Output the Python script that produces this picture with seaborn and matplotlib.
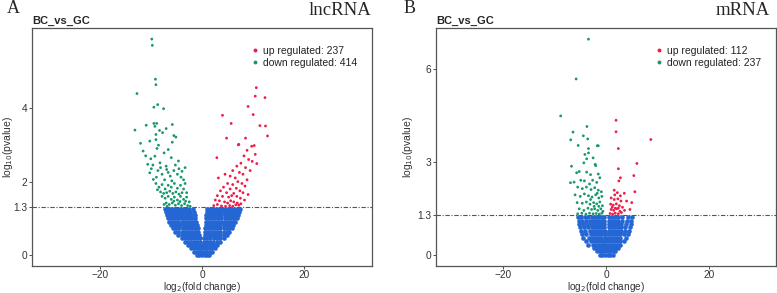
import numpy as np
import pandas as pd
import matplotlib
matplotlib.use("Agg")
import matplotlib.pyplot as plt
import seaborn as sns
from matplotlib.lines import Line2D

# ---------------- data ----------------
# Panel A: lncRNA
a_up_x = [10.6, 10.4, 12.3, 9.0, 4.0, 10.0, 5.7, 11.3, 12.4, 12.8, 4.8, 8.5, 7.2, 10.2,
          7.1, 9.7, 2.9, 8.8, 10.4, 8.2, 9.1, 9.8, 10.7, 7.6, 6.8, 8.5, 9.4, 3.2, 6.0, 7.3,
          8.0, 5.5, 6.5, 8.8, 4.5, 7.0, 5.0, 6.0, 7.8, 8.4, 4.2, 5.5, 6.7, 7.4, 3.6, 4.8,
          6.2, 8.0, 3.0, 4.0, 5.2, 5.8, 6.8, 7.5, 2.6, 3.4, 4.4, 5.0, 5.6, 6.2, 6.9, 7.2,
          2.3, 3.0, 3.8, 4.6, 5.4, 6.0, 6.6, 7.6, 8.3, 9.0]
a_up_y = [4.55, 4.32, 4.28, 4.04, 3.80, 3.82, 3.58, 3.52, 3.51, 3.24, 3.18, 3.18, 3.01, 2.98,
          3.0, 2.96, 2.65, 2.85, 2.74, 2.7, 2.6, 2.55, 2.49, 2.5, 2.42, 2.38, 2.3, 2.1, 2.3, 2.25,
          2.2, 2.15, 2.1, 2.05, 2.2, 2.0, 1.95, 1.92, 1.95, 1.88, 1.85, 1.8, 1.82, 1.75, 1.75, 1.7,
          1.68, 1.7, 1.62, 1.6, 1.58, 1.62, 1.6, 1.55, 1.5, 1.48, 1.45, 1.42, 1.48, 1.45, 1.42, 1.36,
          1.35, 1.38, 1.34, 1.33, 1.35, 1.33, 1.37, 1.4, 1.5, 1.65]

a_down_x = [-9.8, -9.7, -9.1, -9.0, -12.7, -8.65, -9.4, -7.5, -13.1, -10.9, -9.4, -8.85, -9.2,
            -7.0, -5.8, -8.3, -7.7, -9.0, -5.5, -5.1, -10.2, -9.0, -12.0, -8.5, -5.8,
            -11.5, -9.2, -6.6, -10.6, -8.2, -4.6, -7.4, -10.0, -6.0, -8.8, -5.2, -7.0, -11.0, -9.6,
            -10.2, -3.3, -9.5, -8.6, -7.8, -6.9, -6.2, -5.5, -4.8, -4.1, -3.6, -8.9, -7.3, -5.9,
            -4.5, -9.9, -6.6, -8.1, -3.9,
            -9.0, -8.4, -7.8, -7.2, -6.6, -6.0, -5.4, -4.8, -4.2, -3.6, -3.0, -8.1, -7.5, -6.9,
            -6.3, -5.7, -5.1, -4.5, -3.9, -3.3, -8.7,
            -7.8, -7.2, -6.6, -6.0, -5.4, -4.8, -4.2, -3.6, -3.0, -2.5, -7.0, -6.4, -5.8, -5.2,
            -4.6, -4.0, -3.4, -2.8, -2.3, -6.8, -7.4, -5.5, -4.3, -3.2]
a_down_y = [5.87, 5.70, 4.78, 4.63, 4.39, 4.09, 4.02, 3.98, 3.40, 3.53, 3.58, 3.58, 3.50,
            3.44, 3.55, 3.39, 3.33, 3.28, 3.25, 3.21, 3.10, 3.14, 3.04, 2.99, 3.07,
            2.83, 2.69, 2.87, 2.47, 2.51, 2.56, 2.78, 2.62, 2.65, 2.9, 2.45, 2.42, 2.7, 2.45,
            2.24, 2.38, 2.06, 2.3, 2.2, 2.33, 2.15, 2.3, 2.2, 2.12, 2.05, 2.12, 2.05, 2.02,
            2.35, 2.35, 2.25, 2.38, 2.28,
            1.95, 1.85, 1.92, 1.8, 1.9, 1.85, 1.95, 1.82, 1.9, 1.8, 1.7, 1.72, 1.68, 1.7,
            1.74, 1.68, 1.72, 1.66, 1.7, 1.95, 1.78,
            1.6, 1.55, 1.6, 1.52, 1.58, 1.5, 1.6, 1.52, 1.58, 1.45, 1.42, 1.38, 1.42, 1.36,
            1.4, 1.35, 1.4, 1.35, 1.33, 1.33, 1.38, 1.47, 1.46, 1.47]

a_ns_levels = [0.02, 0.1, 0.19, 0.28, 0.37, 0.46, 0.55, 0.64, 0.73, 0.82, 0.91, 1.0, 1.09, 1.18, 1.27]
a_ns_rows = [
    [-1.0, -0.5, 0.0, 0.5, 1.0, 1.4],
    [-1.6, -1.0, -0.5, 0.0, 0.5, 1.0, 1.5, 2.0],
    [-2.1, -1.5, -0.9, -0.4, -0.1, 0.25, 0.8, 1.4, 1.9, 2.5],
    [-2.8, -2.2, -1.6, -1.0, -0.5, -0.25, 0.3, 0.8, 1.4, 2.0, 2.5, 3.0],
    [-3.4, -2.8, -2.2, -1.6, -1.0, -0.35, 0.4, 1.0, 1.6, 2.2, 2.9, 3.6],
    [-4.0, -3.4, -2.8, -2.2, -1.6, -1.0, -0.45, 0.45, 1.0, 1.6, 2.3, 3.0, 3.6, 4.2],
    [-4.6, -4.0, -3.4, -2.8, -2.2, -1.6, -1.1, -0.6, 0.5, 1.1, 1.7, 2.3, 3.0, 3.6, 4.2, 4.8],
    [-5.2, -4.6, -4.0, -3.4, -2.8, -2.2, -1.6, -1.1, -0.7, 0.6, 1.1, 1.7, 2.4, 3.0, 3.6, 4.2, 4.8, 5.3],
    [-5.6, -5.0, -4.4, -3.8, -3.2, -2.6, -2.0, -1.4, -0.85, 0.65, 1.2, 1.8, 2.4, 3.0, 3.6, 4.2, 4.8, 5.3, 5.8],
    [-6.0, -5.4, -4.8, -4.2, -3.6, -3.0, -2.4, -1.8, -1.3, -1.0, 0.7, 1.2, 1.8, 2.4, 3.0, 3.6, 4.2, 4.8, 5.4, 5.8, 6.1],
    [-6.4, -5.8, -5.2, -4.6, -4.0, -3.4, -2.8, -2.2, -1.6, -1.15, 0.75, 1.3, 1.9, 2.5, 3.1, 3.7, 4.3, 4.9, 5.5, 6.0, 6.5],
    [-6.7, -6.1, -5.5, -4.9, -4.3, -3.7, -3.1, -2.5, -1.9, -1.3, 0.8, 1.4, 2.0, 2.6, 3.2, 3.8, 4.4, 5.0, 5.6, 6.2, 6.8],
    [-6.9, -6.3, -5.7, -5.1, -4.5, -3.9, -3.3, -2.7, -2.1, -1.45, 0.85, 1.4, 2.0, 2.6, 3.2, 3.8, 4.4, 5.0, 5.6, 6.2, 6.6, 7.0],
    [-7.1, -6.5, -5.9, -5.3, -4.7, -4.1, -3.5, -2.9, -2.3, -1.6, 0.9, 1.5, 2.1, 2.7, 3.3, 3.9, 4.5, 5.1, 5.7, 6.3, 6.8, 7.2],
    [-7.3, -6.7, -6.1, -5.5, -4.9, -4.3, -3.7, -3.1, -2.5, -1.7, 0.95, 1.5, 2.1, 2.7, 3.3, 3.9, 4.5, 5.1, 5.7, 6.3, 6.9, 7.4],
]

# Panel B: mRNA
b_up_x = [1.95, 1.95, 8.7, 2.4, 6.0, 2.4, 5.4, 2.8, 2.5, 5.6, 1.6, 2.2, 3.55, 5.0, 4.65,
          1.0, 1.6, 2.3, 2.9, 0.9, 1.4, 2.0, 2.6, 3.2, 1.0, 1.5, 2.1, 2.7, 0.8, 1.3, 1.8,
          2.4, 3.0, 1.2, 1.8, 2.4, 1.7, 2.8, 4.0, 3.6]
b_up_y = [4.35, 3.98, 3.73, 3.44, 2.96, 2.79, 2.57, 2.5, 2.4, 2.05, 2.1, 2.02, 2.0, 1.7, 1.48,
          1.85, 1.8, 1.82, 1.75, 1.65, 1.62, 1.66, 1.6, 1.55, 1.48, 1.45, 1.5, 1.42, 1.35, 1.33, 1.36,
          1.34, 1.38, 1.55, 1.52, 1.52, 1.95, 1.92, 1.75, 1.45]

b_down_x = [-3.4, -5.8, -8.8, -3.7, -6.4, -4.4, -6.85, -3.55, -5.4, -3.4, -1.7, -1.5, -4.1,
            -3.4, -3.75, -2.5, -4.3, -2.1, -6.7, -2.0, -5.2, -3.75, -5.7, -3.0, -1.5, -6.9,
            -6.2, -4.9, -4.2, -3.2, -2.6, -1.8, -1.2, -5.5, -4.6, -3.8, -2.9, -2.2, -1.5, -0.9,
            -6.0, -5.0, -4.2, -3.4, -2.7, -2.0, -1.4, -0.8, -5.6, -4.6, -3.8, -3.1, -2.4, -1.8,
            -1.2, -0.7, -5.2, -4.3, -3.5, -2.8, -2.2, -1.6, -1.0, -0.6, -5.5, -4.7, -3.9, -3.2,
            -2.5, -1.9, -1.3, -0.8, -2.3, -1.4, -3.0, -1.7]
b_down_y = [6.96, 5.68, 4.49, 4.15, 3.97, 3.85, 3.72, 3.75, 3.54, 3.44, 3.53, 3.53, 3.25,
            3.3, 3.11, 3.14, 2.98, 2.93, 2.87, 2.89, 2.7, 2.68, 2.66, 2.6, 2.62, 2.34,
            2.36, 2.42, 2.4, 2.3, 2.42, 2.35, 2.5, 2.2, 2.15, 2.2, 2.12, 2.18, 2.1, 2.05,
            1.95, 1.9, 1.98, 1.92, 1.88, 1.95, 1.85, 1.9, 1.7, 1.68, 1.72, 1.65, 1.7, 1.66,
            1.72, 1.6, 1.5, 1.45, 1.52, 1.48, 1.5, 1.45, 1.5, 1.42, 1.34, 1.36, 1.33, 1.36,
            1.34, 1.35, 1.33, 1.36, 1.58, 1.58, 1.8, 2.0]

b_ns_levels = [0.02, 0.13, 0.24, 0.35, 0.46, 0.57, 0.68, 0.79, 0.9, 1.01, 1.12, 1.23]
b_ns_rows = [
    [-1.2, -0.7, -0.2, 0.3, 0.8, 1.3],
    [-1.8, -1.2, -0.7, -0.2, 0.3, 0.8, 1.3, 1.8],
    [-2.4, -1.8, -1.2, -0.7, -0.2, 0.3, 0.8, 1.3, 1.8, 2.3],
    [-3.4, -2.6, -2.0, -1.4, -0.8, -0.2, 0.4, 1.0, 1.6, 2.2, 2.8],
    [-3.9, -3.0, -2.4, -1.8, -1.2, -0.6, -0.15, 0.4, 1.0, 1.6, 2.2, 2.8, 3.5],
    [-4.4, -3.3, -2.7, -2.1, -1.5, -0.9, -0.2, 0.4, 1.0, 1.6, 2.2, 2.8, 3.9],
    [-4.6, -3.8, -3.0, -2.4, -1.8, -1.2, -0.6, -0.2, 0.45, 1.0, 1.6, 2.2, 2.8, 3.4, 4.2],
    [-4.9, -4.0, -3.2, -2.6, -2.0, -1.4, -0.8, -0.25, 0.5, 1.1, 1.7, 2.3, 2.9, 3.6, 4.4],
    [-5.0, -4.2, -3.4, -2.8, -2.2, -1.6, -1.0, -0.3, 0.5, 1.1, 1.7, 2.3, 2.9, 3.7, 4.6],
    [-5.2, -4.4, -3.6, -3.0, -2.4, -1.8, -1.2, -0.6, -0.35, 0.55, 1.1, 1.7, 2.3, 3.0, 3.8, 4.8],
    [-5.3, -4.6, -3.8, -3.2, -2.6, -2.0, -1.4, -0.8, -0.4, 0.6, 1.2, 1.8, 2.4, 3.1, 4.0, 4.9],
    [-5.4, -4.8, -4.0, -3.4, -2.8, -2.2, -1.6, -1.0, -0.45, 0.65, 1.2, 1.8, 2.4, 3.2, 4.2, 5.0],
]

a_counts = {"up": 237, "down": 414}
b_counts = {"up": 112, "down": 237}
a_yticks = [0, 1.3, 2, 4]
b_yticks = [0, 1.3, 3, 6]
xticks = [-20, 0, 20]
threshold = 1.3

col_up = "#EE1C47"
col_down = "#17996B"
col_ns = "#2466D3"


def build_frame(up_x, up_y, dn_x, dn_y, levels, rows):
    ns_x, ns_y = [], []
    for lv, row in zip(levels, rows):
        ns_x.extend(row)
        ns_y.extend([lv] * len(row))
    df = pd.concat([
        pd.DataFrame({"x": ns_x, "y": ns_y, "g": "ns"}),
        pd.DataFrame({"x": dn_x, "y": dn_y, "g": "down"}),
        pd.DataFrame({"x": up_x, "y": up_y, "g": "up"}),
    ], ignore_index=True)
    return df


df_a = build_frame(a_up_x, a_up_y, a_down_x, a_down_y, a_ns_levels, a_ns_rows)
df_b = build_frame(b_up_x, b_up_y, b_down_x, b_down_y, b_ns_levels, b_ns_rows)

sns.set_style("white")
plt.rcParams["font.family"] = ["Liberation Sans", "DejaVu Sans"]

fig = plt.figure(figsize=(7.77, 2.93), dpi=100)
W, H = 777, 293
ax_a = fig.add_axes([32 / W, 1 - 266 / H, 340 / W, 238 / H])
ax_b = fig.add_axes([436 / W, 1 - 266 / H, 340 / W, 238 / H])


def draw(ax, df, counts, yticks, ylim, xlim, ylab_x):
    ns = df[df.g == "ns"]
    sig = df[df.g != "ns"]
    sns.scatterplot(data=ns, x="x", y="y", color=col_ns, s=11, linewidth=0,
                    marker="o", ax=ax, legend=False)
    sns.scatterplot(data=sig, x="x", y="y", hue="g", palette={"up": col_up, "down": col_down},
                    s=4, linewidth=0, marker="o", ax=ax, legend=False)
    ax.axhline(threshold, color="#555555", lw=0.8, ls=(0, (4, 1.5, 1, 1.5)), zorder=0.5)
    ax.set_xlim(*xlim)
    ax.set_ylim(*ylim)
    ax.set_xticks(xticks)
    ax.set_xticklabels(["\u221220", "0", "20"])
    ax.set_yticks(yticks)
    ax.set_yticklabels([str(t) for t in yticks])
    ax.tick_params(axis="both", which="both", direction="out", length=2.5, width=0.6,
                   color="#333333", labelsize=7.3, pad=1.0, labelcolor="#333333",
                   bottom=True, left=True)
    ax.tick_params(axis="x", pad=0.3)
    for sp in ax.spines.values():
        sp.set_visible(True)
        sp.set_color("#555555")
        sp.set_linewidth(0.9)
    ax.set_xlabel("log$_{2}$(fold change)", fontsize=7.2, color="#333333", va="center")
    ax.xaxis.set_label_coords(0.5, -0.087)
    ax.set_ylabel("log$_{10}$(pvalue)", fontsize=7.5, color="#333333", va="center")
    ax.yaxis.set_label_coords(ylab_x, 0.5)
    ax.set_title("BC_vs_GC", loc="left", fontsize=8, fontweight="bold", pad=3, x=0.0)
    handles = [
        Line2D([], [], marker="o", ls="", color=col_up, markersize=1.8,
               label=f"up regulated: {counts['up']}"),
        Line2D([], [], marker="o", ls="", color=col_down, markersize=1.8,
               label=f"down regulated: {counts['down']}"),
    ]
    ax.legend(handles=handles, loc="upper left", bbox_to_anchor=(0.645, 0.925), frameon=False,
              fontsize=7.5, handlelength=0.8, handletextpad=0.3, labelspacing=0.2,
              borderpad=0, borderaxespad=0, labelcolor="#222222")


draw(ax_a, df_a, a_counts, a_yticks, (-0.29, 6.17), (-33.2, 33.2), -0.072)
draw(ax_b, df_b, b_counts, b_yticks, (-0.34, 7.32), (-33.0, 33.0), -0.082)

serif = ["Liberation Serif", "DejaVu Serif"]
fig.text(7 / W, 1 - 13 / H, "A", family=serif, fontsize=13, va="baseline", ha="left")
fig.text(371 / W, 1 - 15 / H, "lncRNA", family=serif, fontsize=13.5, va="baseline", ha="right")
fig.text(404 / W, 1 - 13 / H, "B", family=serif, fontsize=13, va="baseline", ha="left")
fig.text(770 / W, 1 - 15 / H, "mRNA", family=serif, fontsize=13.5, va="baseline", ha="right")

fig.savefig("out.png", dpi=100)
